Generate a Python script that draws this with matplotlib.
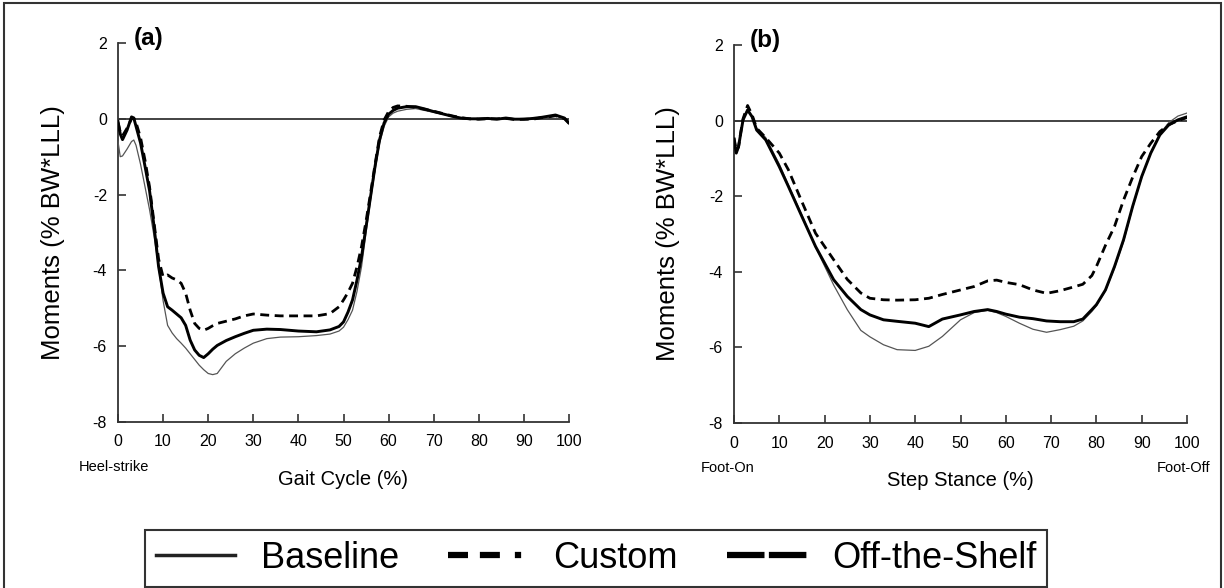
import matplotlib
matplotlib.use("Agg")
import matplotlib.pyplot as plt
from matplotlib.lines import Line2D
from matplotlib.patches import Rectangle

plt.rcParams["axes.unicode_minus"] = False
FONT = ["Liberation Sans", "DejaVu Sans"]

# ---- panel (a): gait cycle ----
xa = [0, 0.5, 1, 2, 3, 3.5, 4, 5, 6, 7, 8, 9, 10, 11, 12, 13, 14, 15, 16, 17,
      18, 19, 20, 21, 22, 24, 26, 28, 30, 33, 36, 40, 44, 47, 49, 50, 51, 52, 53, 54,
      55, 56, 57, 58, 59, 60, 61, 62, 64, 66, 68, 70, 72, 74, 76, 78, 80, 82, 84, 86,
      88, 90, 92, 94, 96, 97, 98, 99, 100]
baseline_a = [-0.6, -1.0, -0.98, -0.8, -0.6, -0.56, -0.7, -1.2, -1.8, -2.4, -3.1, -3.9, -4.8, -5.45, -5.65, -5.8, -5.92, -6.05, -6.2, -6.35,
              -6.5, -6.62, -6.72, -6.75, -6.72, -6.4, -6.2, -6.05, -5.92, -5.8, -5.76, -5.75, -5.72, -5.68, -5.6, -5.5, -5.3, -5.05, -4.55, -3.9,
              -3.0, -2.15, -1.35, -0.65, -0.2, 0.05, 0.15, 0.2, 0.25, 0.27, 0.22, 0.17, 0.12, 0.07, 0.02, -0.01, -0.02, 0.0, -0.01, 0.01,
              -0.01, -0.02, 0.0, 0.02, 0.07, 0.08, 0.03, 0.0, -0.1]
custom_a = [-0.1, -0.35, -0.45, -0.25, 0.0, 0.02, -0.1, -0.5, -1.1, -1.8, -2.75, -3.7, -4.17, -4.12, -4.2, -4.25, -4.34, -4.6, -5.05, -5.4,
            -5.53, -5.58, -5.53, -5.46, -5.4, -5.34, -5.28, -5.2, -5.15, -5.18, -5.2, -5.2, -5.2, -5.14, -4.96, -4.78, -4.58, -4.34, -3.9, -3.37,
            -2.7, -1.96, -1.2, -0.47, -0.03, 0.19, 0.3, 0.34, 0.33, 0.3, 0.25, 0.2, 0.14, 0.08, 0.03, 0.0, -0.01, 0.0, 0.0, 0.01,
            -0.02, -0.01, -0.01, 0.03, 0.06, 0.08, 0.05, 0.0, -0.12]
shelf_a = [-0.07, -0.4, -0.55, -0.3, 0.05, 0.02, -0.2, -0.64, -1.26, -1.9, -2.85, -3.9, -4.6, -4.96, -5.05, -5.15, -5.25, -5.45, -5.84, -6.1,
           -6.24, -6.3, -6.2, -6.08, -5.98, -5.85, -5.75, -5.66, -5.58, -5.55, -5.56, -5.6, -5.62, -5.57, -5.48, -5.36, -5.1, -4.78, -4.25, -3.64,
           -2.85, -2.05, -1.25, -0.55, -0.11, 0.12, 0.22, 0.28, 0.32, 0.32, 0.26, 0.19, 0.13, 0.07, 0.02, 0.0, 0.0, 0.01, -0.01, 0.02,
           -0.01, -0.01, 0.01, 0.04, 0.08, 0.1, 0.06, 0.02, -0.11]

# ---- panel (b): step stance ----
xb = [0, 0.5, 1, 1.5, 2, 3, 4, 5, 7, 10, 12, 15, 18, 20, 22, 25, 28, 30, 33, 36,
      40, 43, 46, 50, 53, 56, 58, 60, 63, 66, 69, 72, 75, 77, 79, 80, 82, 84, 86, 88,
      90, 92, 94, 96, 98, 100]
baseline_b = [-0.55, -0.8, -0.65, -0.3, 0.05, 0.3, 0.12, -0.2, -0.45, -1.15, -1.7, -2.5, -3.35, -3.85, -4.35, -5.0, -5.55, -5.72, -5.93, -6.06,
              -6.08, -5.97, -5.71, -5.27, -5.08, -5.02, -5.08, -5.18, -5.36, -5.52, -5.6, -5.53, -5.44, -5.3, -5.05, -4.9, -4.5, -3.9, -3.2, -2.3,
              -1.5, -0.85, -0.35, -0.05, 0.12, 0.2]
custom_b = [-0.45, -0.8, -0.7, -0.3, 0.05, 0.4, 0.15, -0.2, -0.45, -0.86, -1.3, -2.15, -2.98, -3.33, -3.68, -4.2, -4.56, -4.7, -4.74, -4.75,
            -4.74, -4.7, -4.6, -4.48, -4.39, -4.24, -4.22, -4.28, -4.34, -4.48, -4.57, -4.5, -4.4, -4.33, -4.1, -3.86, -3.3, -2.8, -2.1, -1.5,
            -0.95, -0.6, -0.29, -0.11, 0.0, 0.08]
shelf_b = [-0.5, -0.86, -0.69, -0.33, 0.02, 0.28, 0.1, -0.25, -0.51, -1.22, -1.74, -2.54, -3.33, -3.77, -4.21, -4.65, -5.0, -5.14, -5.27, -5.31,
           -5.36, -5.45, -5.25, -5.14, -5.05, -5.0, -5.05, -5.12, -5.2, -5.24, -5.3, -5.32, -5.32, -5.25, -5.0, -4.87, -4.48, -3.86, -3.15, -2.27,
           -1.48, -0.86, -0.38, -0.11, 0.02, 0.1]

labels = ["Baseline", "Custom", "Off-the-Shelf"]
xticks = list(range(0, 101, 10))
yticks = [-8, -6, -4, -2, 0, 2]

W, H = 1224, 588
fig = plt.figure(figsize=(W / 100, H / 100), dpi=100)


def px_axes(left, top, right, bottom):
    return fig.add_axes([left / W, 1 - bottom / H, (right - left) / W, (bottom - top) / H])


def style_axes(ax, tag, xlabel, left_note, right_note=None):
    ax.set_xlim(0, 100)
    ax.set_ylim(-8, 2)
    ax.set_xticks(xticks)
    ax.set_yticks(yticks)
    for s in ["top", "right"]:
        ax.spines[s].set_visible(False)
    for s in ["left", "bottom"]:
        ax.spines[s].set_color("#333333")
        ax.spines[s].set_linewidth(1.3)
    ax.tick_params(axis="both", direction="in", length=6, width=1.2, color="#333333",
                   labelsize=11.5)
    ax.tick_params(axis="y", pad=8)
    ax.tick_params(axis="x", pad=9)
    for lab in ax.get_xticklabels() + ax.get_yticklabels():
        lab.set_family(FONT)
    ax.axhline(0, color="#222222", lw=1.2, zorder=1)
    ax.text(0.5, -0.152, xlabel, transform=ax.transAxes, ha="center", va="center",
            fontsize=14.5, family=FONT)
    ax.text(left_note[1], -0.118, left_note[0], transform=ax.transAxes, ha="center",
            va="center", fontsize=10.5, family=FONT)
    if right_note:
        ax.text(right_note[1], -0.118, right_note[0], transform=ax.transAxes, ha="center",
                va="center", fontsize=10.5, family=FONT)
    ax.text(-0.145, 0.5, "Moments (% BW*LLL)", transform=ax.transAxes, rotation=90,
            ha="center", va="center", fontsize=18.5, family=FONT)
    ax.text(3.5, 2.12, tag, ha="left", va="center", fontsize=17.5, fontweight="bold",
            family=FONT, clip_on=False)


def draw_series(ax, x, base, cust, shelf):
    ax.plot(x, base, color="#555555", lw=0.9, zorder=3)
    ax.plot(x, cust, color="black", lw=2.0, dashes=(3.2, 2.0), zorder=4)
    ax.plot(x, shelf, color="black", lw=2.1, zorder=5)


ax_a = px_axes(118, 43, 569, 422)
draw_series(ax_a, xa, baseline_a, custom_a, shelf_a)
style_axes(ax_a, "(a)", "Gait Cycle (%)", ("Heel-strike", -0.009))

ax_b = px_axes(734, 45, 1187, 423)
draw_series(ax_b, xb, baseline_b, custom_b, shelf_b)
style_axes(ax_b, "(b)", "Step Stance (%)", ("Foot-On", -0.014), ("Foot-Off", 0.993))

# outer frame
fig.add_artist(Rectangle((4 / W, -0.1), (1221 - 4) / W, 1 - 3 / H + 0.1,
                         transform=fig.transFigure, fill=False, lw=1.5, ec="#333333"))

handles = [
    Line2D([], [], color="#222222", lw=2.5),
    Line2D([], [], color="black", lw=4.5, dashes=[3.2, 1.9, 3.2, 2.4, 1.0, 2.4]),
    Line2D([], [], color="black", lw=4.5, dashes=[6, 0.7]),
]
leg = fig.legend(handles, labels, loc="upper left",
                 bbox_to_anchor=(145 / W, 1 - 530 / H, (1047 - 145) / W, 0),
                 mode="expand", ncol=3, frameon=True, fancybox=False,
                 edgecolor="black", handlelength=2.2, handletextpad=0.7,
                 borderaxespad=0, borderpad=0.3, prop={"family": FONT, "size": 26})
leg.get_frame().set_linewidth(1.5)

fig.savefig("out.png", dpi=100)
